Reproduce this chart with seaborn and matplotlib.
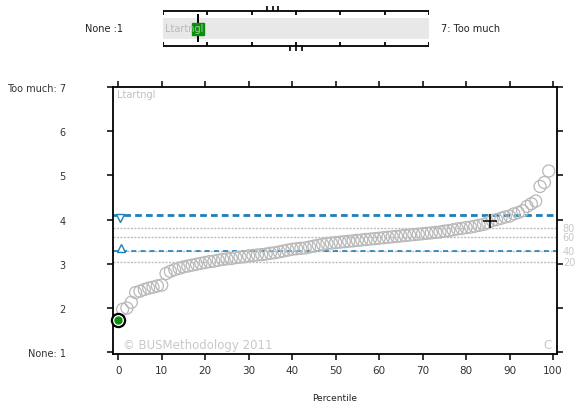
import matplotlib.pyplot as plt
import seaborn as sns
import pandas as pd

# percentile ranks and sorted scores
percentiles = list(range(100))
scores = [1.73, 1.97, 2.00, 2.13, 2.35, 2.38, 2.42, 2.45, 2.47, 2.50,
          2.52, 2.78, 2.83, 2.87, 2.90, 2.93, 2.95, 2.97, 2.99, 3.01,
          3.03, 3.05, 3.06, 3.08, 3.10, 3.11, 3.12, 3.14, 3.15, 3.16,
          3.18, 3.19, 3.20, 3.21, 3.22, 3.24, 3.25, 3.27, 3.29, 3.31,
          3.33, 3.34, 3.35, 3.36, 3.38, 3.40, 3.42, 3.44, 3.46, 3.47,
          3.48, 3.49, 3.50, 3.51, 3.52, 3.53, 3.54, 3.55, 3.56, 3.57,
          3.58, 3.59, 3.60, 3.61, 3.62, 3.63, 3.64, 3.65, 3.66, 3.67,
          3.68, 3.69, 3.70, 3.71, 3.72, 3.74, 3.75, 3.77, 3.79, 3.80,
          3.82, 3.83, 3.85, 3.87, 3.89, 3.93, 3.98, 4.00, 4.03, 4.06,
          4.08, 4.13, 4.16, 4.20, 4.30, 4.36, 4.42, 4.75, 4.84, 5.10]

upper_ci = 4.10
lower_ci = 3.29
pct_labels = ["80", "60", "40", "20"]
pct_values = [3.80, 3.60, 3.29, 3.03]
cross_x, cross_y = 85.5, 3.96

ytick_values = [1, 2, 3, 4, 5, 6, 7]
ytick_labels = ["None: 1", "2", "3", "4", "5", "6", "Too much: 7"]
xtick_values = list(range(0, 101, 10))

# top strip
strip_value = 1.8
strip_top_marks = [3.35, 3.48, 3.60]
strip_bottom_marks = [3.87, 4.00, 4.13]

sns.set_style("ticks")
plt.rcParams["font.family"] = ["DejaVu Sans"]

W, H = 577, 410
fig = plt.figure(figsize=(W / 100, H / 100), dpi=100)
ax = fig.add_axes([113 / W, 1 - 355 / H, (557 - 113) / W, (355 - 88) / H])

df = pd.DataFrame({"Percentile": percentiles, "Score": scores})

# percentile reference lines
for lab, val in zip(pct_labels, pct_values):
    ax.axhline(val, color="#bdbdbd", lw=1.0, ls=(0, (1.5, 1.0)), zorder=1)
    ax.text(1.013, val, lab, transform=ax.get_yaxis_transform(), color="#c8c8c8",
            fontsize=7, va="center", ha="left", clip_on=False)

# confidence interval lines
ax.axhline(upper_ci, color="#1f7fb6", lw=2.0, ls=(0, (2.4, 1.5)), zorder=2)
ax.axhline(lower_ci, color="#1f7fb6", lw=1.2, ls=(0, (3, 2.5)), zorder=2)
ax.plot(0.4, upper_ci - 0.06, marker="v", ms=6, mfc="white", mec="#1f7fb6", mew=1.0, zorder=2)
ax.plot(0.7, lower_ci + 0.07, marker="^", ms=6, mfc="white", mec="#1f7fb6", mew=1.0, zorder=2)

sns.scatterplot(data=df.iloc[1:], x="Percentile", y="Score", ax=ax, s=75,
                facecolors="none", edgecolor="#b8b8b8", linewidth=0.9, zorder=3)

# highlighted respondent
ax.scatter(df["Percentile"][0], df["Score"][0], s=90, facecolor="white",
           edgecolor="black", linewidth=1.6, zorder=4, clip_on=False)
ax.scatter(df["Percentile"][0], df["Score"][0], s=25, color="#0a8f0a", zorder=5, clip_on=False)

ax.plot(cross_x, cross_y, marker="+", color="black", ms=10, mew=1.1, zorder=5)

ax.set_xlim(-1.2, 100.9)
ax.set_ylim(0.96, 7.0)
ax.set_xticks(xtick_values)
ax.set_yticks(ytick_values)
ax.set_yticklabels(ytick_labels)
ax.tick_params(axis="y", left=True, right=True, direction="out", length=4, width=1.3,
               pad=30, labelsize=7, labelcolor="#333333")
ax.tick_params(axis="x", top=True, bottom=True, direction="out", length=4, width=1.3,
               pad=4, labelsize=7.5, labelcolor="#333333")
for sp in ax.spines.values():
    sp.set_visible(True)
    sp.set_linewidth(1.3)
    sp.set_color("black")
ax.set_xlabel("Percentile", fontsize=6.5, labelpad=13, color="#222222")
ax.set_ylabel("")

ax.text(0.01, 0.992, "Ltartngl", transform=ax.transAxes, va="top", ha="left",
        color="#c0c0c0", fontsize=7)
ax.text(0.022, 0.037, "\u00a9 BUSMethodology 2011", transform=ax.transAxes, va="center",
        ha="left", color="#c8c8c8", fontsize=8.5)
ax.text(0.988, 0.035, "C", transform=ax.transAxes, va="center", ha="right",
        color="#c8c8c8", fontsize=8.5)

# top strip
sx = fig.add_axes([163 / W, 1 - 52 / H, (429 - 163) / W, 45 / H])
sx.set_xlim(1, 7)
sx.set_ylim(52, 7)
sx.axis("off")
sx.fill_between([1, 7], 19, 40, color="#e8e8e8", lw=0)
sx.hlines([12, 47], 1, 7, color="black", lw=1.3)
sx.vlines(ytick_values, 12, 16, color="black", lw=1.3)
sx.vlines(ytick_values, 43, 47, color="black", lw=1.3)
sx.vlines(strip_top_marks, 7, 12, color="black", lw=1.2, clip_on=False)
sx.vlines(strip_bottom_marks, 47, 52, color="black", lw=1.2, clip_on=False)
sx.text(1.05, 29.5, "Ltartngl", color="#b8b8b8", fontsize=7, va="center", ha="left")
sx.vlines([strip_value], 15, 43, color="black", lw=1.4)
sx.plot(strip_value, 29.5, marker="s", ms=9, color="#0a8f0a", mec="#0a8f0a")

fig.text(123 / W, 1 - 29 / H, "None :1", ha="right", va="center", fontsize=7, color="#222222")
fig.text(441 / W, 1 - 29 / H, "7: Too much", ha="left", va="center", fontsize=7, color="#222222")

fig.savefig("out.png", dpi=100)
